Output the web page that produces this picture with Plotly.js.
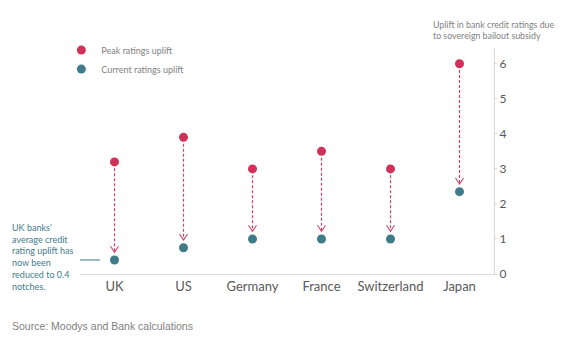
<!DOCTYPE html>
<html><head><meta charset="utf-8">
<script src="https://cdn.plot.ly/plotly-3.0.1.min.js"></script>
<style>html,body{margin:0;padding:0;background:#fff}#c{width:574px;height:352px}</style>
</head><body><div id="c"></div>
<script>
var categories = ["UK", "US", "Germany", "France", "Switzerland", "Japan"];
var peakUplift = [3.2, 3.9, 3.0, 3.5, 3.0, 6.0];
var currentUplift = [0.4, 0.75, 1.0, 1.0, 1.0, 2.35];
var yTicks = [0, 1, 2, 3, 4, 5, 6];

var red = "#cf3158", teal = "#3f7b89", arrowCol = "#c9466a";
var FONT = "Lato, 'Open Sans', sans-serif";

var idx = categories.map(function(c, i){ return i; });

var shapes = [];
idx.forEach(function(i){
  var tip = currentUplift[i] + 0.22;
  shapes.push({type:"line", xref:"x", yref:"y", x0:i, x1:i, y0:peakUplift[i]-0.18, y1:tip,
    line:{color:arrowCol, width:1.2, dash:"3px,2px"}});
  shapes.push({type:"path", xref:"x", yref:"y", xsizemode:"pixel", ysizemode:"pixel",
    xanchor:i, yanchor:tip, path:"M -4 6 L 0 0 L 4 6",
    line:{color:arrowCol, width:1.1}});
});
shapes.push({type:"line", xref:"x", yref:"y", x0:-0.5, x1:-0.21, y0:currentUplift[0], y1:currentUplift[0],
  line:{color:teal, width:1}});

var data = [
  {type:"scatter", mode:"markers", name:"Peak ratings uplift", x:categories, y:peakUplift,
   marker:{color:red, size:9}},
  {type:"scatter", mode:"markers", name:"Current ratings uplift", x:categories, y:currentUplift,
   marker:{color:teal, size:9}}
];

var layout = {
  width:574, height:352,
  margin:{l:80, r:80, t:48, b:78},
  paper_bgcolor:"#fff", plot_bgcolor:"#fff",
  font:{family:FONT, color:"#595959"},
  showlegend:true,
  legend:{x:-0.045, xanchor:"left", y:1.055, yanchor:"top", bgcolor:"rgba(0,0,0,0)",
    font:{size:9, color:"#7f7f7f", family:FONT}, tracegroupgap:0, itemwidth:30},
  xaxis:{type:"category", range:[-0.5, 5.5], showgrid:false, zeroline:false,
    showline:true, linecolor:"#d9d9d9", linewidth:1, ticks:"", tickfont:{size:13, color:"#595959"},
    fixedrange:true},
  yaxis:{side:"right", range:[0, 6.45], tickvals:yTicks, showgrid:false, zeroline:false,
    showline:true, linecolor:"#d9d9d9", linewidth:1, ticks:"outside", ticklen:2, tickcolor:"#d9d9d9",
    tickfont:{size:12, color:"#595959"}, ticklabelstandoff:0},
  shapes:shapes,
  annotations:[
    {xref:"paper", yref:"paper", x:(431-80)/414, y:(274-43)/226, xanchor:"left", yanchor:"bottom",
     text:"Uplift in bank credit ratings due<br>to sovereign bailout subsidy", showarrow:false, align:"left",
     font:{size:8.8, color:"#7f7f7f", family:FONT}},
    {xref:"paper", yref:"paper", x:(10-80)/414, y:(274-220)/226, xanchor:"left", yanchor:"top",
     text:"UK banks'<br>average credit<br>rating uplift has<br>now been<br>reduced to 0.4<br>notches.", showarrow:false, align:"left",
     font:{size:9, color:teal, family:FONT}},
    {xref:"paper", yref:"paper", x:(10-80)/414, y:(274-318)/226, xanchor:"left", yanchor:"top",
     text:"Source: Moodys and Bank calculations", showarrow:false, align:"left",
     font:{size:10.5, color:"#7f7f7f", family:"'Liberation Sans', Arial, sans-serif"}}
  ]
};
Plotly.newPlot("c", data, layout, {displayModeBar:false, staticPlot:true});
</script></body></html>
